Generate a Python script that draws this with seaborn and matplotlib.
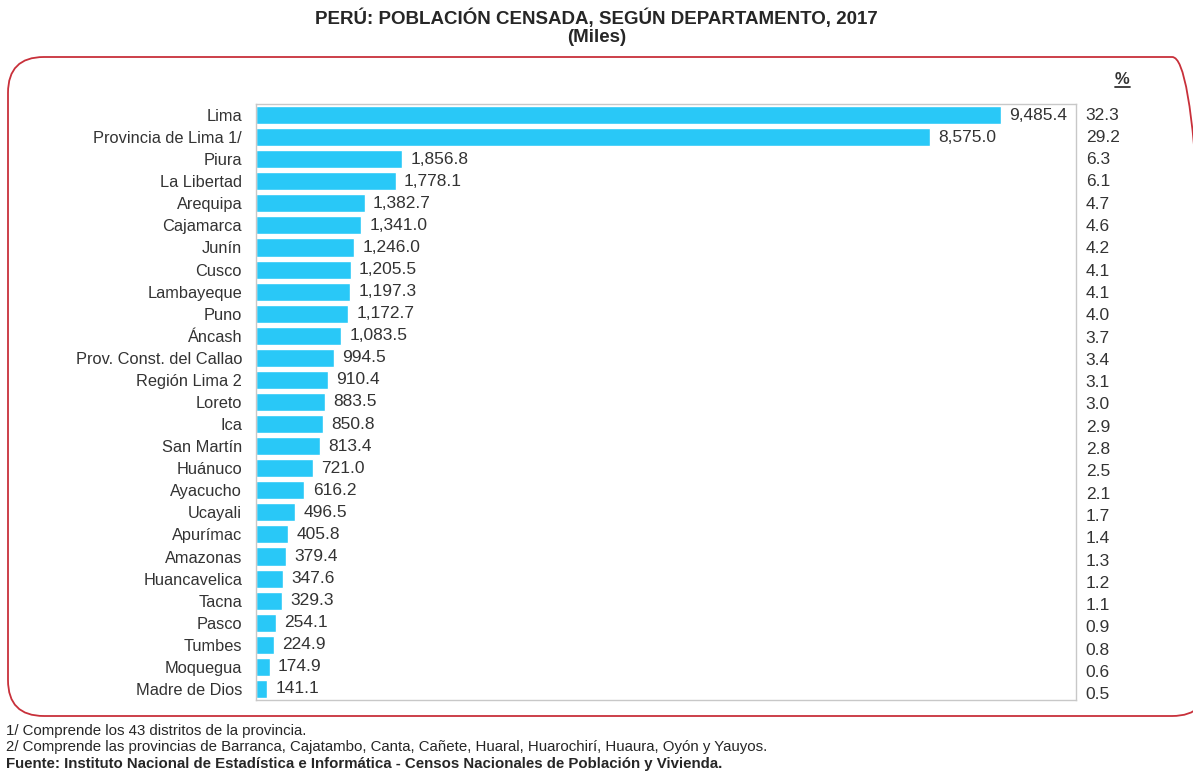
import pandas as pd
import seaborn as sns
import matplotlib.pyplot as plt
from matplotlib.patches import FancyBboxPatch

departamentos = ['Lima', 'Provincia de Lima 1/', 'Piura', 'La Libertad', 'Arequipa',
                 'Cajamarca', 'Junín', 'Cusco', 'Lambayeque', 'Puno', 'Áncash',
                 'Prov. Const. del Callao', 'Región Lima 2', 'Loreto', 'Ica',
                 'San Martín', 'Huánuco', 'Ayacucho', 'Ucayali', 'Apurímac',
                 'Amazonas', 'Huancavelica', 'Tacna', 'Pasco', 'Tumbes',
                 'Moquegua', 'Madre de Dios']
poblacion = [9485.4, 8575.0, 1856.8, 1778.1, 1382.7, 1341.0, 1246.0, 1205.5,
             1197.3, 1172.7, 1083.5, 994.5, 910.4, 883.5, 850.8, 813.4, 721.0,
             616.2, 496.5, 405.8, 379.4, 347.6, 329.3, 254.1, 224.9, 174.9, 141.1]
porcentaje = [32.3, 29.2, 6.3, 6.1, 4.7, 4.6, 4.2, 4.1, 4.1, 4.0, 3.7, 3.4, 3.1,
              3.0, 2.9, 2.8, 2.5, 2.1, 1.7, 1.4, 1.3, 1.2, 1.1, 0.9, 0.8, 0.6, 0.5]

df = pd.DataFrame({'dep': departamentos, 'pob': poblacion, 'pct': porcentaje})

sns.set_style('white')
plt.rcParams['font.family'] = ['Liberation Sans', 'DejaVu Sans']

fig = plt.figure(figsize=(11.93, 7.74), dpi=100)
ax = fig.add_axes([256 / 1193, 1 - 700 / 774, 820 / 1193, 596 / 774])

sns.barplot(data=df, x='pob', y='dep', color='#29c8f7', saturation=1,
            width=0.82, ax=ax)
ax.set_xlim(0, 10440)
ax.set_xlabel('')
ax.set_ylabel('')
ax.set_xticks([])
ax.tick_params(axis='y', length=4, color='#c8c8c8', labelsize=11.8,
               labelcolor='#333333', pad=6)
for s in ax.spines.values():
    s.set_color('#c8c8c8')
    s.set_linewidth(1)

for i, (v, p) in enumerate(zip(poblacion, porcentaje)):
    ax.annotate(f'{v:,.1f}', (v, i), xytext=(6, 0), textcoords='offset points',
                va='center', ha='left', fontsize=12.5, color='#333333')
    ax.annotate(f'{p:.1f}', (1, i), xycoords=('axes fraction', 'data'),
                xytext=(7, -0.6 * i / 26 * 7), textcoords='offset points',
                va='center', ha='left', fontsize=12.5, color='#333333')

fig.text(1122 / 1193, 1 - 79 / 774, '%', ha='center', va='center',
         fontsize=12, fontweight='bold', color='#333333')
fig.add_artist(plt.Line2D([1115 / 1193, 1130 / 1193], [1 - 87 / 774, 1 - 87 / 774],
                          color='#333333', lw=1.3))

fig.text(0.5, 1 - 18 / 774, 'PERÚ: POBLACIÓN CENSADA, SEGÚN DEPARTAMENTO, 2017',
         ha='center', va='center', fontsize=13.5, fontweight='bold')
fig.text(0.5, 1 - 38 / 774, '(Miles)', ha='center', va='center',
         fontsize=13.5, fontweight='bold')

box = FancyBboxPatch((8 / 1193, 1 - 716 / 774), 1200 / 1193, 659 / 774,
                     boxstyle='round,pad=0,rounding_size=0.03',
                     transform=fig.transFigure, fill=False,
                     edgecolor='#c8303a', linewidth=1.3,
                     mutation_aspect=1193 / 774)
fig.add_artist(box)

fig.text(6 / 1193, 1 - 731 / 774, '1/ Comprende los 43 distritos de la provincia.',
         ha='left', va='center', fontsize=10.8)
fig.text(6 / 1193, 1 - 747 / 774,
         '2/ Comprende las provincias de Barranca, Cajatambo, Canta, Cañete, Huaral, '
         'Huarochirí, Huaura, Oyón y Yauyos.', ha='left', va='center', fontsize=10.8)
fig.text(6 / 1193, 1 - 764 / 774,
         'Fuente: Instituto Nacional de Estadística e Informática - Censos Nacionales '
         'de Población y Vivienda.', ha='left', va='center', fontsize=10.8,
         fontweight='bold')

fig.savefig('out.png', dpi=100)
